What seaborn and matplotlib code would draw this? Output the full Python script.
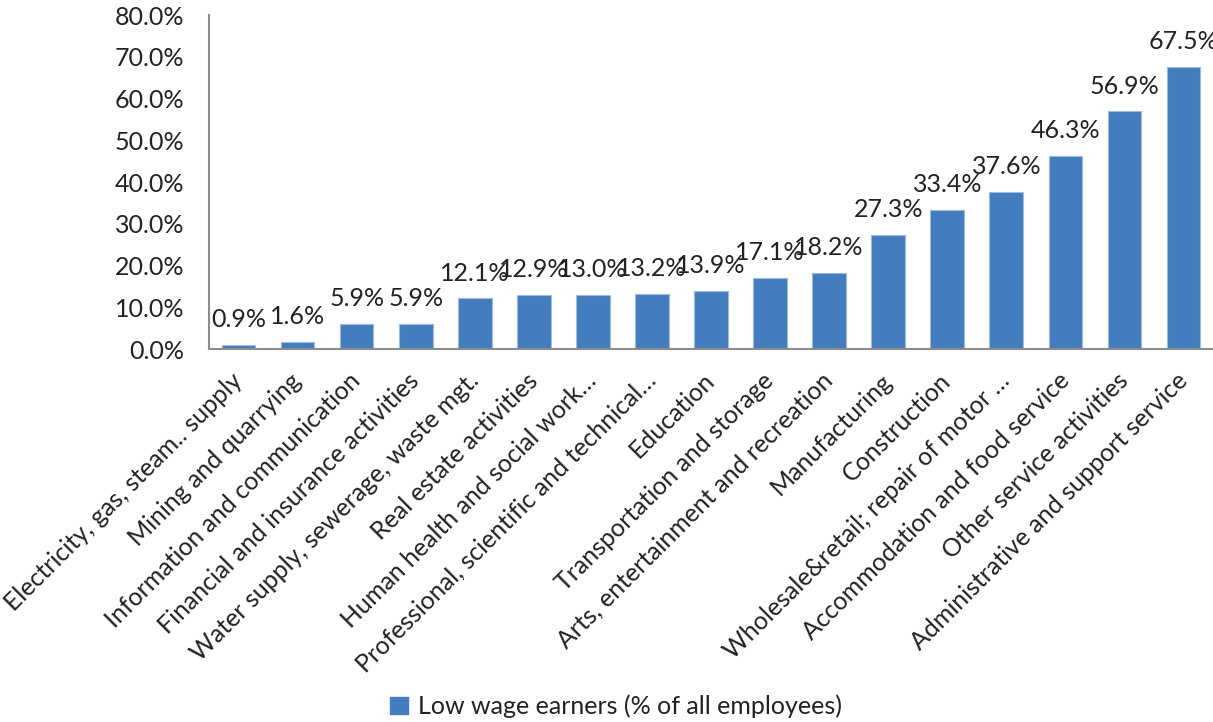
import matplotlib
matplotlib.use("Agg")
import matplotlib.pyplot as plt
import seaborn as sns
import pandas as pd
from matplotlib.patches import Patch
from matplotlib.ticker import FuncFormatter

sectors = [
    "Electricity, gas, steam.. supply",
    "Mining and quarrying",
    "Information and communication",
    "Financial and insurance activities",
    "Water supply, sewerage, waste mgt.",
    "Real estate activities",
    "Human health and social work\u2026",
    "Professional, scientific and technical\u2026",
    "Education",
    "Transportation and storage",
    "Arts, entertainment and recreation",
    "Manufacturing",
    "Construction",
    "Wholesale&retail; repair of motor \u2026",
    "Accommodation and food service",
    "Other service activities",
    "Administrative and support service",
]
low_wage_share = [0.9, 1.6, 5.9, 5.9, 12.1, 12.9, 13.0, 13.2, 13.9,
                  17.1, 18.2, 27.3, 33.4, 37.6, 46.3, 56.9, 67.5]
series_name = "Low wage earners (% of all employees)"

sns.set_theme(style="white")
plt.rcParams["font.family"] = ["Lato", "DejaVu Sans"]

BAR = "#447dbd"
TEXT = "#222222"
SPINE = "#8c8c8c"
FS = 18

df = pd.DataFrame({"sector": sectors, "share": low_wage_share})

fig = plt.figure(figsize=(12.13, 7.22), dpi=100)
ax = fig.add_axes([0.1723, 0.5166, 0.8277, 0.4626])

sns.barplot(data=df, x="sector", y="share", color=BAR, width=0.57,
            saturation=1, edgecolor="#9dbbe0", linewidth=0.8, ax=ax)

ax.set_ylim(0, 80)
ax.set_yticks(range(0, 81, 10))
ax.yaxis.set_major_formatter(FuncFormatter(lambda v, _: f"{v:.1f}%"))
ax.set_xlim(-0.5, len(sectors) - 0.5)
ax.set_xlabel("")
ax.set_ylabel("")

for s in ["top", "right"]:
    ax.spines[s].set_visible(False)
for s in ["left", "bottom"]:
    ax.spines[s].set_color(SPINE)
    ax.spines[s].set_linewidth(1.5)

ax.tick_params(axis="y", length=0, pad=18, labelsize=FS, labelcolor=TEXT)
ax.tick_params(axis="x", length=0, pad=20, labelsize=FS, labelcolor=TEXT)
for lbl in ax.get_xticklabels():
    lbl.set_rotation(45)
    lbl.set_ha("right")
    lbl.set_va("center")
    lbl.set_rotation_mode("anchor")

ax.bar_label(ax.containers[0], labels=[f"{v:.1f}%" for v in low_wage_share],
             padding=10, fontsize=FS, color=TEXT)

fig.legend(handles=[Patch(facecolor=BAR, edgecolor=BAR)], labels=[series_name],
           loc="lower center", bbox_to_anchor=(0.508, -0.026), frameon=False,
           fontsize=FS, handlelength=0.7, handleheight=0.7, handletextpad=0.4,
           labelcolor=TEXT)

fig.savefig("out.png", dpi=100)
